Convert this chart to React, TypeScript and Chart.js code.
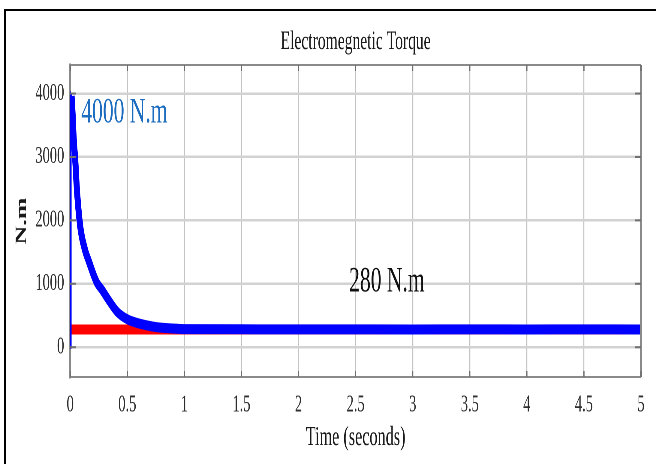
import React, { useEffect, useRef } from "react";
import { Chart, registerables } from "chart.js";

Chart.register(...registerables);

// ---- data ----
const chartTitle = "Electromegnetic Torque";
const xAxisTitle = "Time (seconds)";
const yAxisTitle = "N.m";

const xTicks = [0, 0.5, 1, 1.5, 2, 2.5, 3, 3.5, 4, 4.5, 5];
const xTickLabels = ["0", "0.5", "1", "1.5", "2", "2.5", "3", "3.5", "4", "4.5", "5"];
const yTicks = [0, 1000, 2000, 3000, 4000];
const yTickLabels = ["0", "1000", "2000", "3000", "4000"];

// initial spike at t = 0
const spikeTime = [0, 0.004, 0.012];
const spikeTorque = [0, 3990, 3960];

// electromagnetic torque (blue)
const torqueTime = [0.012, 0.02, 0.03, 0.044, 0.058, 0.088, 0.13, 0.16, 0.23, 0.28, 0.33, 0.41, 0.5, 0.61, 0.76, 0.9, 1.0, 1.5, 2, 2.5, 3, 3.5, 4, 4.5, 5];
const torqueValue = [3960, 3700, 3300, 2950, 2500, 1900, 1530, 1370, 1030, 900, 760, 560, 440, 370, 315, 295, 285, 282, 281, 281, 280, 281, 280, 281, 280];

// load torque reference (red)
const loadTime = [0, 5];
const loadValue = [280, 280];

// text annotations on the plot
const annotationText = ["4000 N.m", "280 N.m"];
const annotationTime = [0.096, 2.443];
const annotationTorque = [3690, 1025];
const annotationColor = ["#1c6cc0", "#111111"];

// ---- layout (virtual canvas is drawn wide and squeezed horizontally) ----
const VW = 1093;
const VH = 464;
const SX = 656 / VW;
const FONT = '"Liberation Serif", "Times New Roman", serif';

const framePlugin = {
  id: "frameAndText",
  afterDatasetsDraw(chart: any) {
    const { ctx, chartArea, scales } = chart;
    const { left, right, top, bottom } = chartArea;
    const xs = scales.x;
    const ys = scales.y;
    ctx.save();
    ctx.strokeStyle = "#8a8a8a";
    ctx.lineWidth = 2;
    ctx.beginPath();
    ctx.moveTo(left, top);
    ctx.lineTo(right, top);
    ctx.stroke();
    ctx.lineWidth = 3;
    ctx.beginPath();
    ctx.moveTo(right, top);
    ctx.lineTo(right, bottom);
    ctx.stroke();
    // inward tick marks
    ctx.strokeStyle = "#707070";
    ctx.lineWidth = 2;
    for (const v of xTicks) {
      const px = xs.getPixelForValue(v);
      ctx.beginPath();
      ctx.moveTo(px, top);
      ctx.lineTo(px, top + 6);
      ctx.moveTo(px, bottom);
      ctx.lineTo(px, bottom - 6);
      ctx.stroke();
    }
    for (const v of yTicks) {
      const py = ys.getPixelForValue(v);
      ctx.beginPath();
      ctx.moveTo(left, py);
      ctx.lineTo(left + 10, py);
      ctx.moveTo(right, py);
      ctx.lineTo(right - 10, py);
      ctx.stroke();
    }
    // title
    ctx.fillStyle = "#1a1a1a";
    ctx.font = `26px ${FONT}`;
    ctx.textAlign = "center";
    ctx.textBaseline = "middle";
    ctx.fillText(chartTitle, (left + right) / 2, 42);
    // annotations
    ctx.font = `36px ${FONT}`;
    ctx.textAlign = "left";
    for (let i = 0; i < annotationText.length; i++) {
      ctx.fillStyle = annotationColor[i];
      ctx.fillText(
        annotationText[i],
        xs.getPixelForValue(annotationTime[i]),
        ys.getPixelForValue(annotationTorque[i])
      );
    }
    ctx.restore();
  },
};

export default function App() {
  const canvasRef = useRef<HTMLCanvasElement | null>(null);

  useEffect(() => {
    const canvas = canvasRef.current;
    if (!canvas) return;
    const toXY = (t: number[], v: number[]) => t.map((tt, i) => ({ x: tt, y: v[i] }));
    const chart = new Chart(canvas, {
      type: "line",
      data: {
        datasets: [
          {
            label: "Te",
            data: toXY(torqueTime, torqueValue),
            borderColor: "#0000ff",
            backgroundColor: "#0000ff",
            borderWidth: 10,
            pointRadius: 0,
            cubicInterpolationMode: "monotone",
            order: 1,
          },
          {
            label: "spike",
            data: toXY(spikeTime, spikeTorque),
            borderColor: "#0000ff",
            backgroundColor: "#0000ff",
            borderWidth: 3,
            pointRadius: 0,
            order: 1,
          },
          {
            label: "TL",
            data: toXY(loadTime, loadValue),
            borderColor: "#ff0000",
            backgroundColor: "#ff0000",
            borderWidth: 10,
            pointRadius: 0,
            order: 2,
          },
        ],
      },
      options: {
        animation: false,
        responsive: false,
        devicePixelRatio: 2,
        layout: { padding: { left: 0, right: VW - 1068, top: 65, bottom: 0 } },
        plugins: {
          legend: { display: false },
          tooltip: { enabled: false },
          title: { display: false },
        },
        scales: {
          x: {
            type: "linear",
            min: 0,
            max: 5,
            afterFit(scale: any) {
              scale.height = VH - 377;
            },
            afterBuildTicks(scale: any) {
              scale.ticks = xTicks.map((v) => ({ value: v }));
            },
            ticks: {
              autoSkip: false,
              maxRotation: 0,
              padding: 14,
              color: "#2e2e2e",
              font: { family: FONT, size: 24 },
              callback: (value: any) => xTickLabels[xTicks.indexOf(Number(value))] ?? "",
            },
            grid: { color: "#c4c4c4", lineWidth: 1.6, drawTicks: false },
            border: { color: "#8a8a8a", width: 2 },
            title: {
              display: true,
              text: xAxisTitle,
              color: "#1a1a1a",
              font: { family: FONT, size: 27 },
              padding: { top: 0, bottom: 10 },
            },
          },
          y: {
            type: "linear",
            min: -470,
            max: 4450,
            afterFit(scale: any) {
              scale.width = 117;
            },
            afterBuildTicks(scale: any) {
              scale.ticks = yTicks.map((v) => ({ value: v }));
            },
            ticks: {
              padding: 10,
              color: "#2e2e2e",
              font: { family: FONT, size: 24 },
              callback: (value: any) => yTickLabels[yTicks.indexOf(Number(value))] ?? "",
            },
            grid: { color: "#d2d2d2", lineWidth: 2.5, drawTicks: false },
            border: { color: "#8a8a8a", width: 3 },
            title: {
              display: true,
              text: yAxisTitle,
              color: "#1a1a1a",
              font: { family: FONT, size: 26, weight: "bold" },
              padding: { top: 21, bottom: 0 },
            },
          },
        },
      },
      plugins: [framePlugin],
    } as any);
    return () => chart.destroy();
  }, []);

  return (
    <div
      style={{
        position: "fixed",
        left: 0,
        top: 0,
        width: 656,
        height: 464,
        overflow: "hidden",
        background: "#ffffff",
      }}
    >
      <div
        style={{
          position: "absolute",
          left: 0,
          top: 0,
          width: VW,
          height: VH,
          transform: `scaleX(${SX})`,
          transformOrigin: "0 0",
        }}
      >
        <canvas
          ref={canvasRef}
          width={VW}
          height={VH}
          style={{ width: VW, height: VH, display: "block" }}
        />
      </div>
      <div
        style={{
          position: "absolute",
          left: 4,
          top: 9,
          width: 720,
          height: 520,
          border: "2px solid #000000",
          pointerEvents: "none",
        }}
      />
    </div>
  );
}
